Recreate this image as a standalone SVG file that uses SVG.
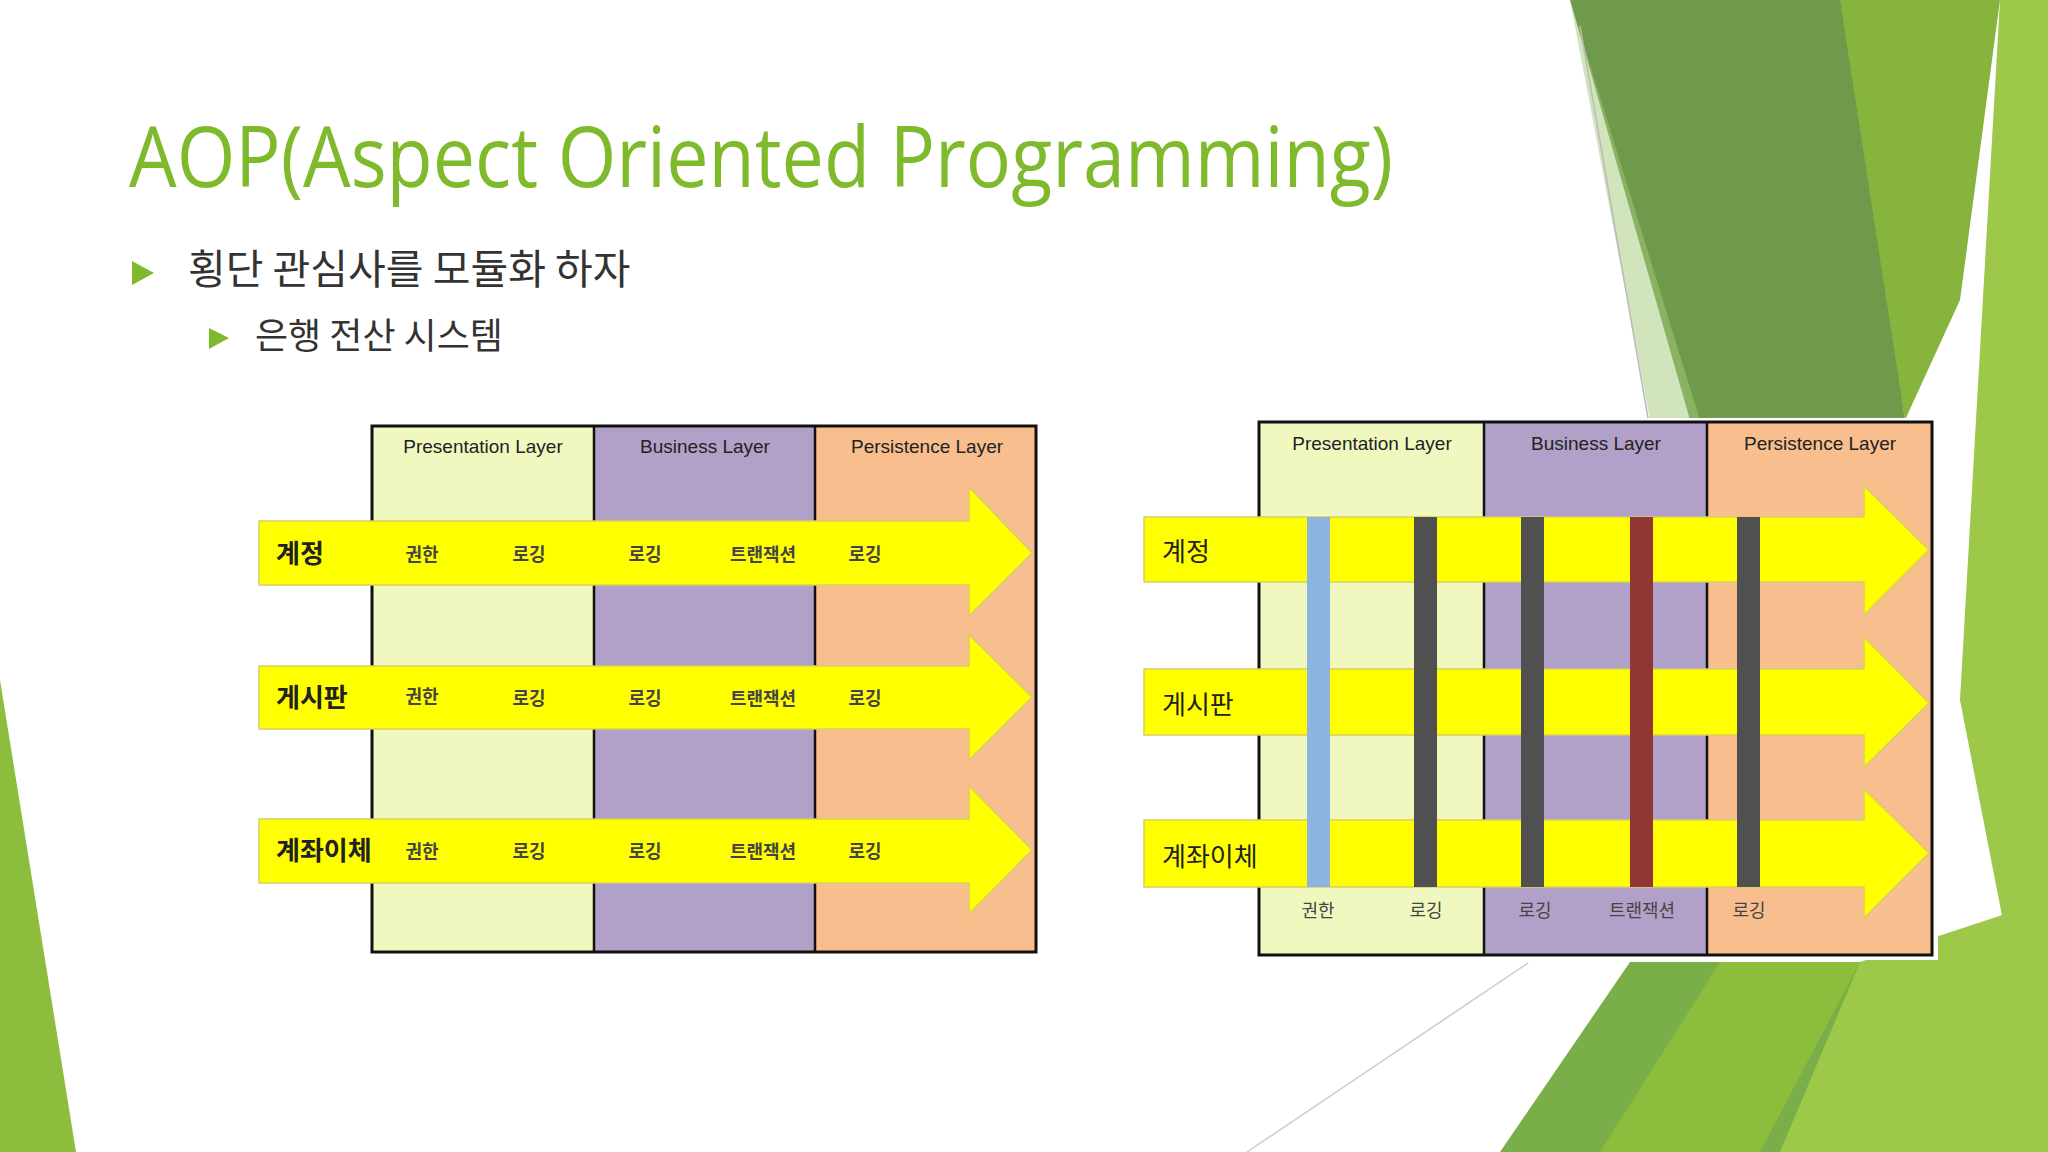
<svg xmlns="http://www.w3.org/2000/svg" width="2048" height="1152" viewBox="0 0 2048 1152">
<style>
.hd{font-family:"Liberation Sans",Arial,sans-serif;font-size:19px;fill:#222;text-anchor:middle}
.rl{font-family:"Noto Sans CJK KR","Noto Sans",sans-serif;font-size:26px;fill:#222;font-weight:bold}
.sm{font-family:"Noto Sans CJK KR","Noto Sans",sans-serif;font-size:18px;fill:#444;text-anchor:middle;font-weight:bold}
.arw{fill:#ffff00;stroke:#d8d060;stroke-width:1.5}
.bar{stroke:none}
</style>
<rect width="2048" height="1152" fill="#fff"/>
<g id="background">
<polygon points="1570,0 1850,0 1905,420 1690,420" fill="#6f9a4c"/>
<polygon points="1840,0 2000,0 1960,300 1905,420" fill="#86b43c"/>
<polygon points="2000,0 2048,0 2048,1152 1960,700" fill="#9dc84a"/>
<polygon points="1570,0 1700,420 1650,420" fill="#a6c97a" opacity="0.5"/>
<polygon points="1500,1152 1630,962 2048,962 2048,1152" fill="#7aae48"/>
<polygon points="1600,1152 1720,962 1860,962 1760,1152" fill="#8cbd3c"/>
<polygon points="1860,962 2048,900 2048,1152 1780,1152" fill="#9dc84a"/>
<polygon points="0,680 0,1152 76,1152" fill="#8cbd3c"/>
<line x1="1580" y1="26" x2="1648" y2="418" stroke="#bbb" stroke-width="1.5"/>
<line x1="1247" y1="1152" x2="1528" y2="963" stroke="#ccc" stroke-width="1.5"/>
</g>
<g id="title">
<text x="129" y="187" font-family="'Open Sans','Noto Sans',sans-serif" font-size="84" fill="#7fba2c" textLength="1264" lengthAdjust="spacingAndGlyphs">AOP(Aspect Oriented Programming)</text>
<polygon points="132,261 154,273 132,285" fill="#7fba2c"/>
<text x="188" y="284" font-family="'Noto Sans CJK KR',sans-serif" font-size="41" fill="#333">횡단 관심사를 모듈화 하자</text>
<polygon points="209,328 229,338 209,349" fill="#7fba2c"/>
<text x="255" y="349" font-family="'Noto Sans CJK KR',sans-serif" font-size="36" fill="#333">은행 전산 시스템</text>
</g>
<g id="left-diagram">
<rect x="372" y="426" width="222" height="526" fill="#f0f8c0"/>
<rect x="594" y="426" width="221" height="526" fill="#b1a0c7"/>
<rect x="815" y="426" width="221" height="526" fill="#f8be8e"/>
<rect x="372" y="426" width="664" height="526" fill="none" stroke="#111" stroke-width="3"/>
<line x1="594" y1="426" x2="594" y2="952" stroke="#111" stroke-width="2.5"/>
<line x1="815" y1="426" x2="815" y2="952" stroke="#111" stroke-width="2.5"/>
<text class="hd" x="483" y="453">Presentation Layer</text>
<text class="hd" x="705" y="453">Business Layer</text>
<text class="hd" x="927" y="453">Persistence Layer</text>
<polygon class="arw" points="259,521 969,521 969,487 1032,553 969,616 969,585 259,585"/>
<polygon class="arw" points="259,666 969,666 969,635 1032,697 969,760 969,729 259,729"/>
<polygon class="arw" points="259,819 969,819 969,786 1032,850 969,914 969,883 259,883"/>
<text class="rl" x="276" y="563">계정</text>
<text class="rl" x="276" y="707">게시판</text>
<text class="rl" x="276" y="860">계좌이체</text>
<g class="sm">
<text class="sm" x="422" y="561">권한</text><text class="sm" x="529" y="561">로깅</text><text class="sm" x="645" y="561">로깅</text><text class="sm" x="763" y="561">트랜잭션</text><text class="sm" x="865" y="561">로깅</text>
<text class="sm" x="422" y="703">권한</text><text class="sm" x="529" y="705">로깅</text><text class="sm" x="645" y="705">로깅</text><text class="sm" x="763" y="705">트랜잭션</text><text class="sm" x="865" y="705">로깅</text>
<text class="sm" x="422" y="858">권한</text><text class="sm" x="529" y="858">로깅</text><text class="sm" x="645" y="858">로깅</text><text class="sm" x="763" y="858">트랜잭션</text><text class="sm" x="865" y="858">로깅</text>
</g>
</g>
<g id="right-diagram">
<rect x="1254" y="418" width="684" height="542" fill="#fff"/>
<rect x="1259" y="422" width="225" height="533" fill="#f0f8c0"/>
<rect x="1484" y="422" width="223" height="533" fill="#b1a0c7"/>
<rect x="1707" y="422" width="225" height="533" fill="#f8be8e"/>
<rect x="1259" y="422" width="673" height="533" fill="none" stroke="#111" stroke-width="3"/>
<line x1="1484" y1="422" x2="1484" y2="955" stroke="#111" stroke-width="2.5"/>
<line x1="1707" y1="422" x2="1707" y2="955" stroke="#111" stroke-width="2.5"/>
<text class="hd" x="1372" y="450">Presentation Layer</text>
<text class="hd" x="1596" y="450">Business Layer</text>
<text class="hd" x="1820" y="450">Persistence Layer</text>
<polygon class="arw" points="1144,517 1864,517 1864,486 1929,550 1864,615 1864,582 1144,582"/>
<polygon class="arw" points="1144,669 1864,669 1864,637 1929,703 1864,767 1864,735 1144,735"/>
<polygon class="arw" points="1144,820 1864,820 1864,789 1929,853 1864,918 1864,887 1144,887"/>
<text class="rl" x="1162" y="561" style="font-weight:normal">계정</text>
<text class="rl" x="1162" y="714" style="font-weight:normal">게시판</text>
<text class="rl" x="1162" y="866" style="font-weight:normal">계좌이체</text>
<rect class="bar" x="1307" y="517" width="23" height="370" fill="#8db3e0"/>
<rect class="bar" x="1414" y="517" width="23" height="370" fill="#505050"/>
<rect class="bar" x="1521" y="517" width="23" height="370" fill="#505050"/>
<rect class="bar" x="1630" y="517" width="23" height="370" fill="#923535"/>
<rect class="bar" x="1737" y="517" width="23" height="370" fill="#505050"/>
<text class="sm" x="1318" y="917" style="font-weight:normal">권한</text>
<text class="sm" x="1426" y="917" style="font-weight:normal">로깅</text>
<text class="sm" x="1535" y="917" style="font-weight:normal">로깅</text>
<text class="sm" x="1642" y="917" style="font-weight:normal">트랜잭션</text>
<text class="sm" x="1749" y="917" style="font-weight:normal">로깅</text>
</g>
</svg>
